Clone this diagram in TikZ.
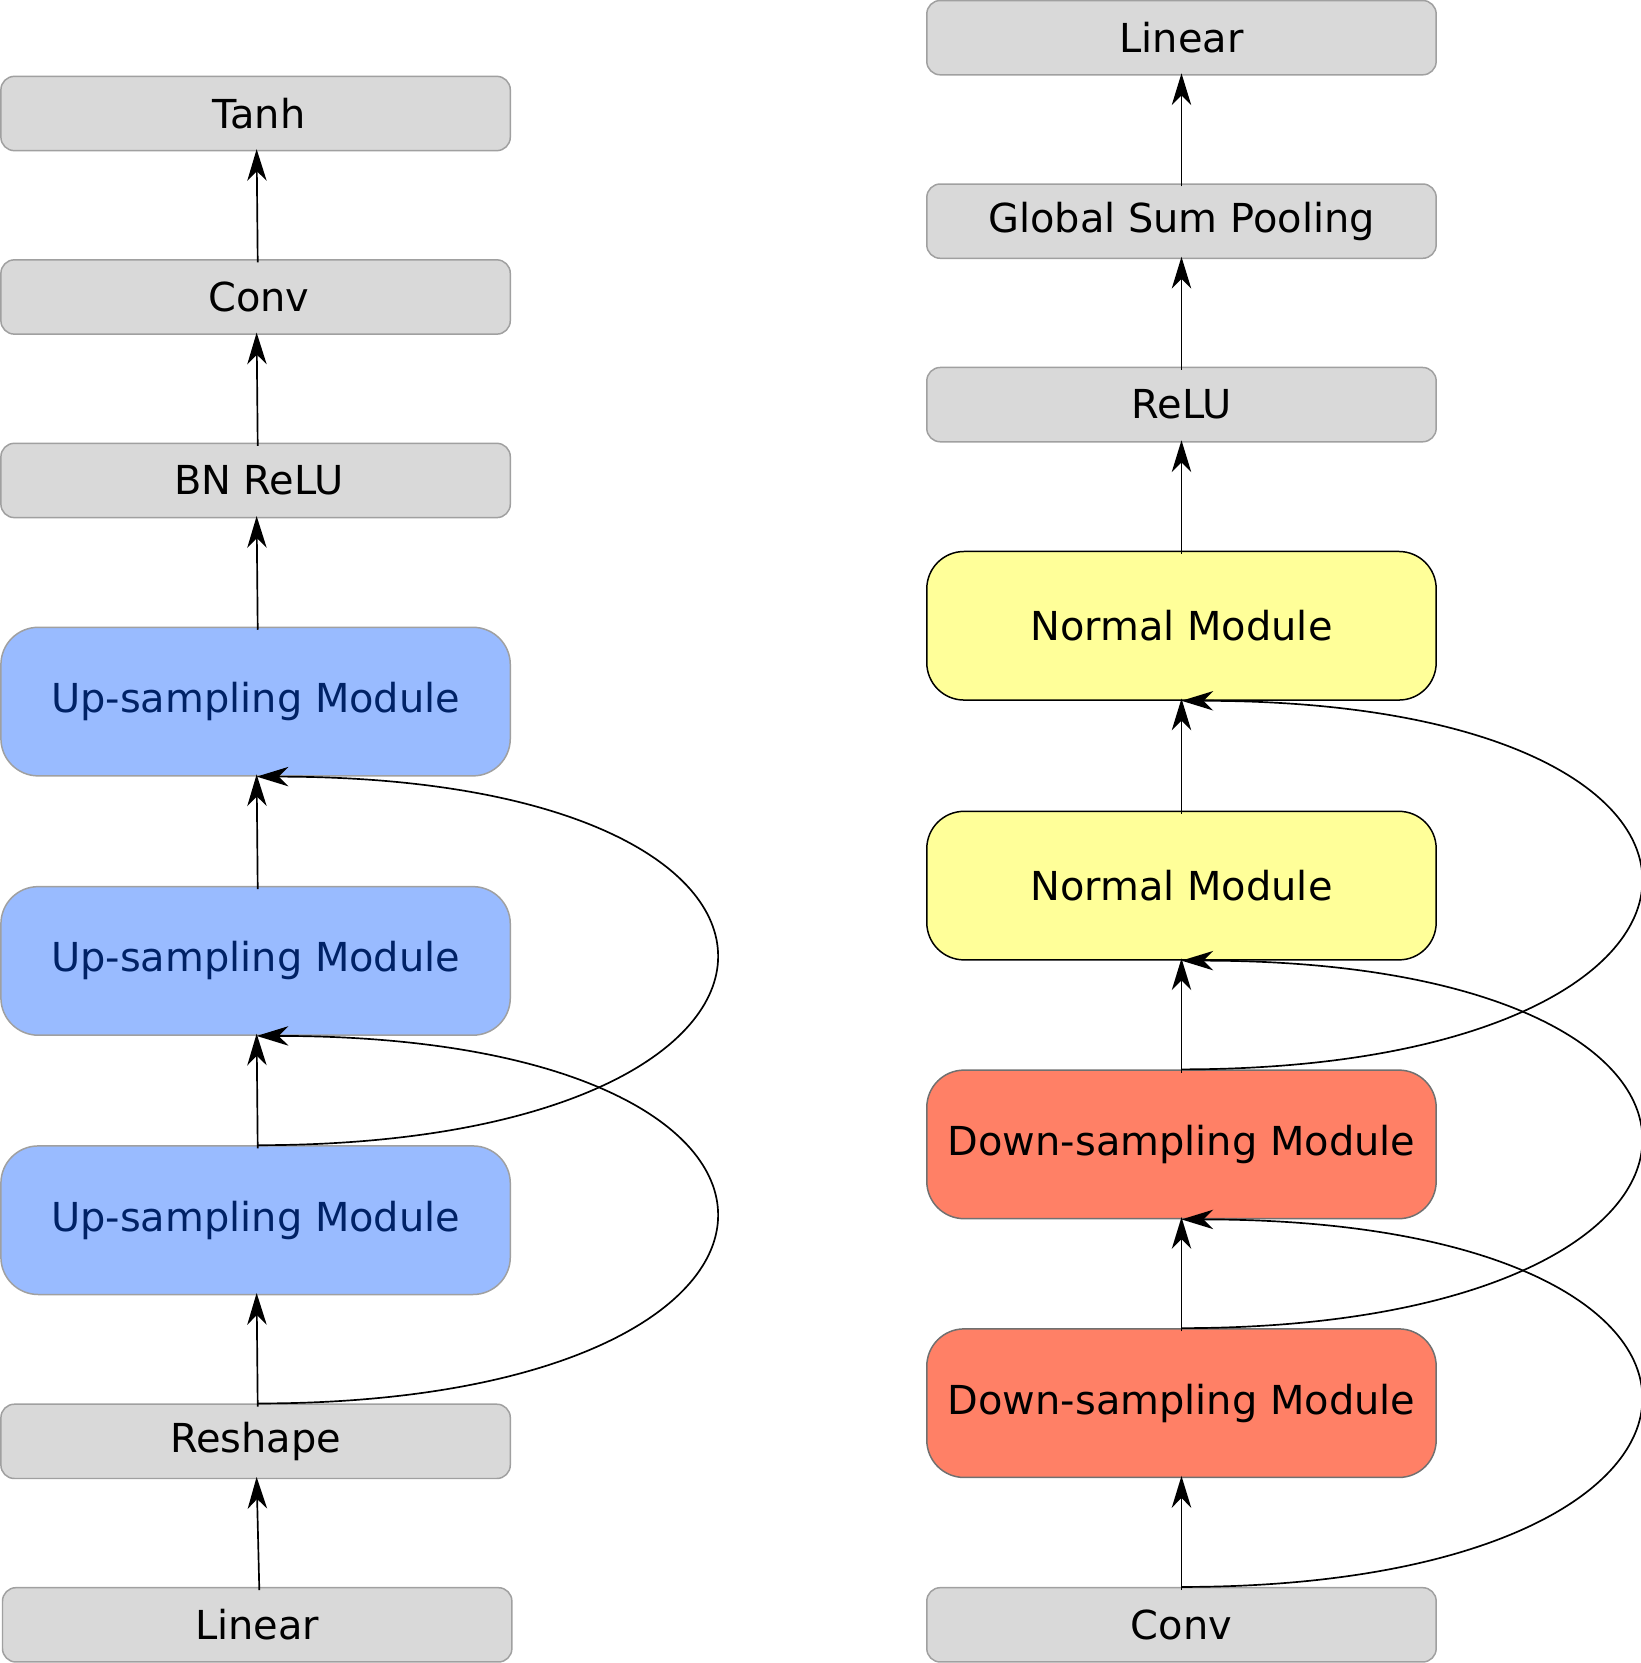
\documentclass[tikz,border=0pt]{standalone}
\usepackage{fontspec}
\setmainfont{DejaVu Sans}
\usetikzlibrary{arrows.meta,positioning,calc}
\definecolor{boxgray}{HTML}{D9D9D9}
\definecolor{bordgray}{HTML}{A0A0A0}
\definecolor{upblue}{HTML}{99BBFF}
\definecolor{uptext}{HTML}{002266}
\definecolor{normyellow}{HTML}{FFFF99}
\definecolor{downred}{HTML}{FF8066}
\definecolor{downbord}{HTML}{707070}
\tikzset{
  graybox/.style={draw=bordgray, line width=0.4pt, fill=boxgray, rounded corners=3.6pt,
    minimum width=4.8cm, minimum height=0.7cm, inner sep=0pt, font=\fontsize{10.7pt}{12pt}\selectfont},
  bigbox/.style={line width=0.4pt, rounded corners=10pt,
    minimum width=4.8cm, minimum height=1.4cm, inner sep=0pt, font=\fontsize{10.7pt}{12pt}\selectfont},
  upbox/.style={bigbox, draw=bordgray, fill=upblue, text=uptext},
  normbox/.style={bigbox, draw=black, fill=normyellow},
  downbox/.style={bigbox, draw=downbord, fill=downred},
  arr/.style={line width=0.45pt, -{Stealth[length=8.5pt, width=5.2pt, inset=2.6pt]}, shorten >=-0.6pt},
  skip/.style={line width=0.45pt, -{Stealth[length=8.5pt, width=5.2pt, inset=2.6pt]}}
}
\begin{document}
\begin{tikzpicture}[x=0.01cm, y=-0.01cm]
\useasboundingbox (0,0) rectangle (1547,1568);
% left column
\node[graybox] (tanh) at (241,107) {\hspace{1.8pt}Tanh};
\node[graybox] (lconv) at (241,280) {\hspace{1.8pt}Conv};
\node[graybox] (bnrelu) at (241,453) {\hspace{1.8pt}BN ReLU};
\node[upbox] (up1) at (241,661.5) {Up-sampling Module};
\node[upbox] (up2) at (241,906) {Up-sampling Module};
\node[upbox] (up3) at (241,1150.5) {Up-sampling Module};
\node[graybox] (reshape) at (241,1359) {Reshape};
\node[graybox] (llinear) at (242.5,1532) {Linear};
% right column
\node[graybox] (rlinear) at (1114,35.5) {Linear};
\node[graybox] (gsp) at (1114,208.5) {Global Sum Pooling};
\node[graybox] (relu) at (1114,381.5) {ReLU};
\node[normbox] (n1) at (1114,590) {Normal Module};
\node[normbox] (n2) at (1114,835) {Normal Module};
\node[downbox] (d1) at (1114,1079) {Down-sampling Module};
\node[downbox] (d2) at (1114,1323) {Down-sampling Module};
\node[graybox] (rconv) at (1114,1532) {Conv};
% straight arrows left
\foreach \a/\b in {llinear/reshape, reshape/up3, up3/up2, up2/up1, up1/bnrelu, bnrelu/lconv, lconv/tanh}{
  \draw[arr] ($(\a.north)+(2,3)$) -- ($(\b.south)+(1,0)$);
}
% straight arrows right
\foreach \a/\b in {rconv/d2, d2/d1, d1/n2, n2/n1, n1/relu, relu/gsp, gsp/rlinear}{
  \draw[arr] ($(\a.north)+(0,3)$) -- (\b.south);
}
% skip connections
\draw[skip] ($(reshape.north)+(2,0)$) .. controls +(566,0) and +(586,0) .. ($(up2.south)+(1,0)$);
\draw[skip] ($(up3.north)+(2,0)$) .. controls +(566,0) and +(586,0) .. ($(up1.south)+(1,0)$);
\draw[skip] (rconv.north) .. controls +(566,0) and +(586,0) .. (d1.south);
\draw[skip] (d2.north) .. controls +(566,0) and +(586,0) .. (n2.south);
\draw[skip] (d1.north) .. controls +(566,0) and +(586,0) .. (n1.south);
\end{tikzpicture}
\end{document}
